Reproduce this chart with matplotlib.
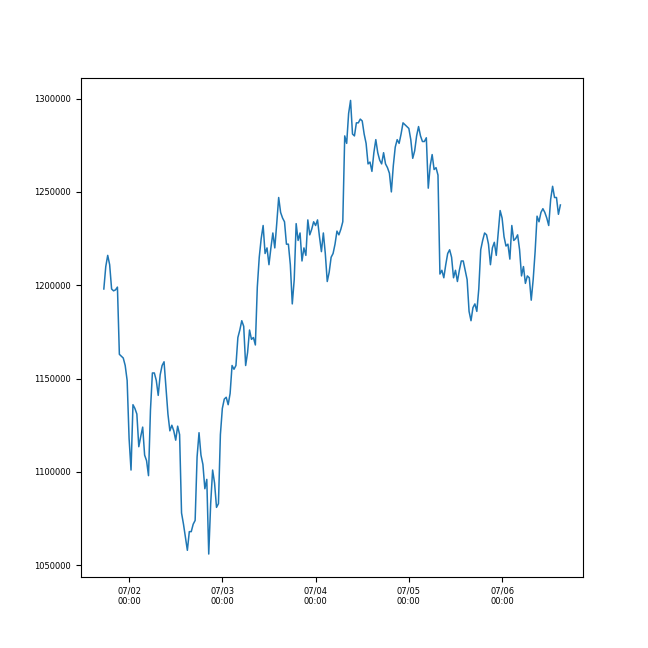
import matplotlib

matplotlib.use("Agg")
import matplotlib.pyplot as plt
import matplotlib.dates as mdates
import numpy as np
import pandas as pd

# half-hourly values (in thousands), 07/01 17:30 -> 07/06 15:00
start_time = "2021-07-01 17:30"
freq = "30min"
values_k = [
    1198, 1210, 1216, 1211, 1198, 1197, 1197.5, 1199, 1163, 1162,
    1161, 1157, 1149, 1118, 1101, 1136, 1134, 1131, 1113.5, 1119,
    1124, 1109, 1106, 1098, 1133, 1153, 1153, 1149, 1141, 1152,
    1157, 1159, 1145, 1131, 1122, 1125, 1122, 1117, 1124.5, 1120,
    1078, 1072, 1065, 1058, 1068, 1068, 1072, 1074, 1108, 1121,
    1109, 1104, 1091, 1096, 1056, 1083, 1101, 1094, 1081, 1083,
    1120, 1134, 1139, 1140, 1136, 1142, 1157, 1155, 1157, 1172,
    1176, 1181, 1178, 1157, 1164, 1176, 1171, 1172, 1168, 1199,
    1215, 1225, 1232, 1217, 1220, 1211, 1220, 1228, 1220, 1233,
    1247, 1239, 1236, 1234, 1222, 1222, 1211, 1190, 1203, 1233,
    1224, 1228, 1213, 1220, 1216, 1235, 1227, 1230, 1234, 1232,
    1235, 1226, 1218, 1228, 1217, 1202, 1207, 1215, 1217, 1222,
    1229, 1227, 1230, 1234, 1280, 1276, 1292, 1299, 1281, 1280,
    1287, 1287, 1289, 1288, 1281, 1276, 1265, 1266, 1261, 1271,
    1278, 1271, 1267, 1265, 1271, 1265, 1263, 1260, 1250, 1264,
    1274, 1278, 1276, 1281, 1287, 1286, 1285, 1284, 1278, 1268,
    1272, 1280, 1285, 1280, 1277, 1277, 1279, 1252, 1264, 1270,
    1262, 1263, 1259, 1206, 1208, 1204, 1211, 1217, 1219, 1215,
    1204, 1208, 1202, 1208, 1213, 1213, 1208, 1203, 1186, 1181,
    1188, 1190, 1186, 1198, 1219, 1224, 1228, 1227, 1222, 1211,
    1220, 1223, 1216, 1228, 1240, 1236, 1226, 1221, 1222, 1214,
    1232, 1224, 1225, 1227, 1219, 1205, 1210, 1201, 1205, 1204,
    1192, 1203, 1218, 1237, 1234, 1239, 1241, 1239, 1236, 1232,
    1246, 1253, 1247, 1247, 1238, 1243,
]


def build_series():
    index = pd.date_range(start_time, periods=len(values_k), freq=freq)
    return pd.Series(np.array(values_k) * 1000, index=index)


def plot_series(series):
    plt.rcParams["font.family"] = ["Liberation Sans Narrow", "DejaVu Sans"]
    fig, ax = plt.subplots(figsize=(6.48, 6.48), dpi=100)
    ax.plot(series.index, series.values, color="#1f77b4", linewidth=1.1)

    ax.xaxis.set_major_locator(mdates.DayLocator())
    ax.xaxis.set_major_formatter(mdates.DateFormatter("%m/%d\n%H:%M"))
    ax.ticklabel_format(axis="y", style="plain", useOffset=False)
    ax.tick_params(labelsize=6)

    fig.savefig("out.png", dpi=100)


if __name__ == "__main__":
    plot_series(build_series())
